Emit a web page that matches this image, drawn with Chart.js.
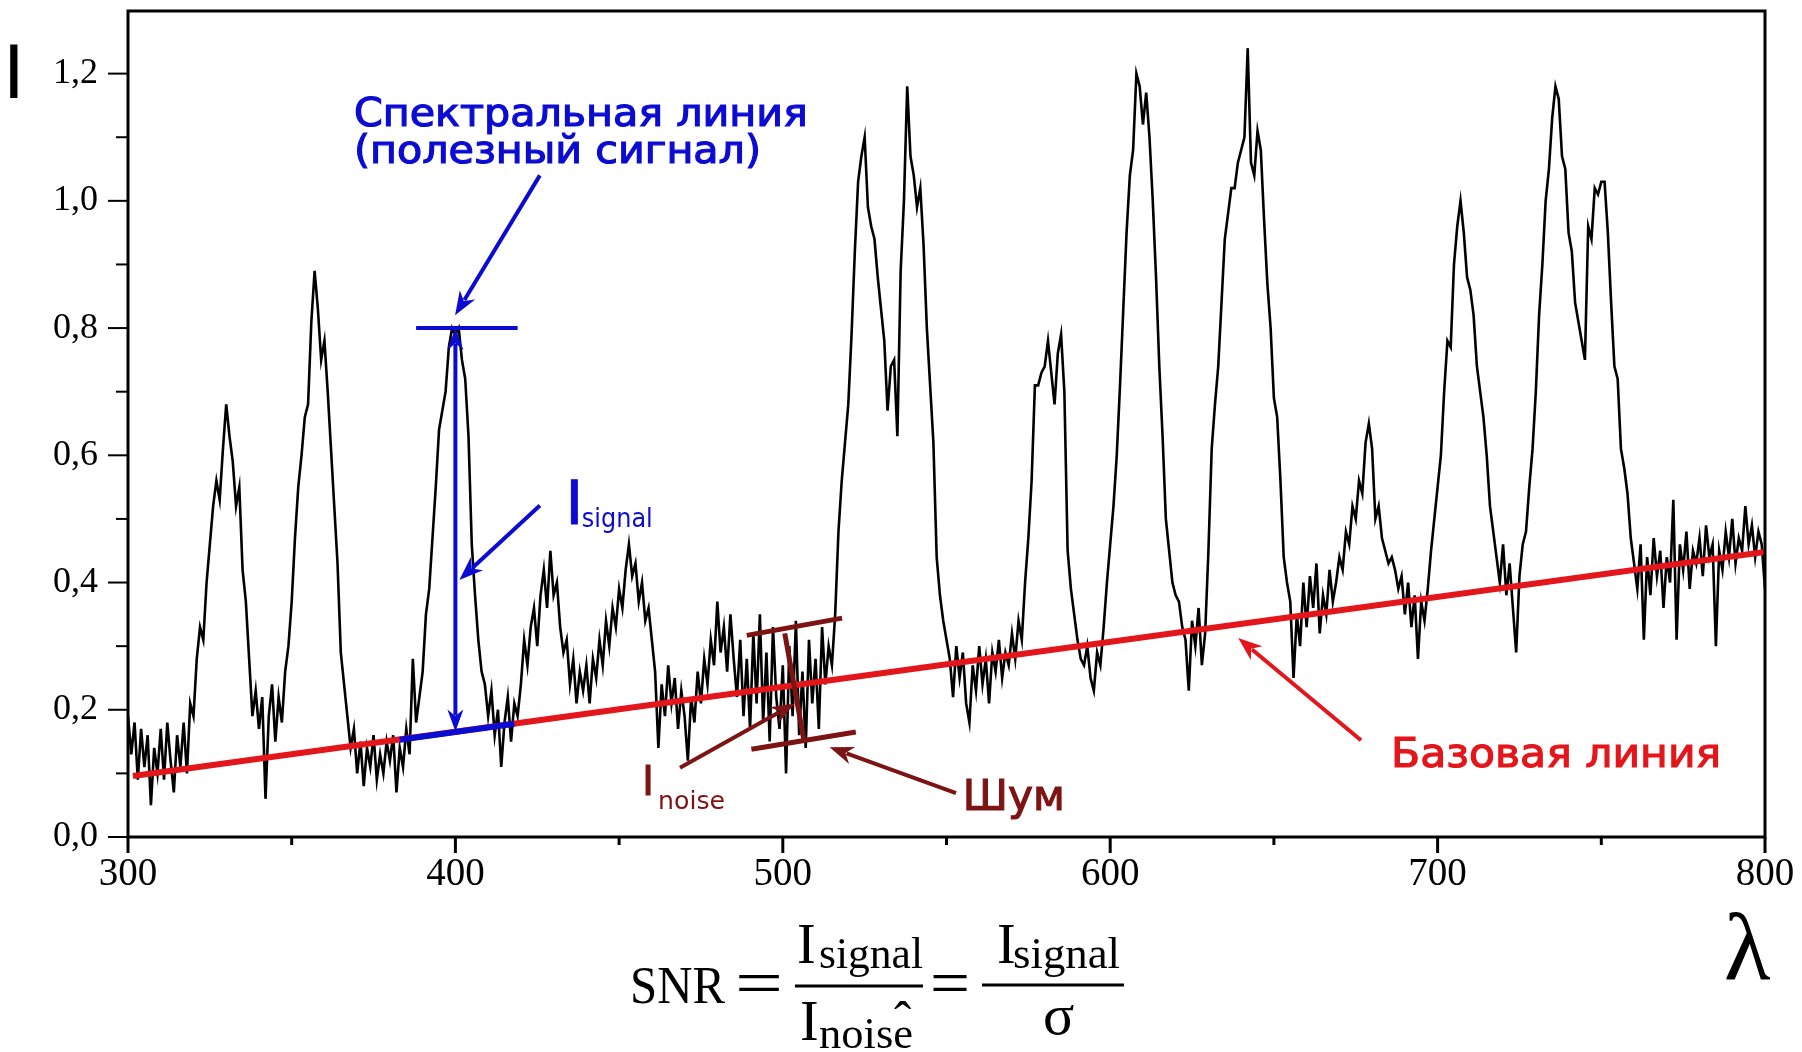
<!DOCTYPE html>
<html lang="ru">
<head>
<meta charset="utf-8">
<title>SNR</title>
<script src="https://cdn.jsdelivr.net/npm/chart.js"></script>
<style>
  html, body { margin: 0; padding: 0; background: #fff; }
  #wrap { position: relative; width: 1802px; height: 1052px; }
</style>
</head>
<body>
<div id="wrap"><canvas id="snrChart"></canvas></div>
<script>
// spectrum: one value per nm, 300 .. 800
var wlStart = 300;
var wlStep = 1;
var intensity = [
    0.19, 0.13, 0.18, 0.09, 0.17, 0.11, 0.16, 0.05, 0.14, 0.10,
    0.17, 0.09, 0.18, 0.12, 0.07, 0.16, 0.11, 0.18, 0.10, 0.21,
    0.19, 0.28, 0.33, 0.31, 0.40, 0.46, 0.52, 0.56, 0.53, 0.61,
    0.68, 0.63, 0.59, 0.52, 0.55, 0.42, 0.37, 0.28, 0.19, 0.23,
    0.17, 0.22, 0.06, 0.19, 0.24, 0.15, 0.22, 0.18, 0.26, 0.30,
    0.37, 0.47, 0.55, 0.60, 0.66, 0.68, 0.81, 0.89, 0.83, 0.75,
    0.78, 0.70, 0.61, 0.52, 0.43, 0.29, 0.24, 0.19, 0.14, 0.17,
    0.10, 0.15, 0.08, 0.14, 0.11, 0.16, 0.09, 0.13, 0.10, 0.15,
    0.12, 0.16, 0.07, 0.14, 0.11, 0.17, 0.13, 0.28, 0.18, 0.22,
    0.26, 0.35, 0.39, 0.47, 0.55, 0.64, 0.67, 0.70, 0.77, 0.80,
    0.79, 0.80, 0.75, 0.72, 0.63, 0.46, 0.38, 0.31, 0.26, 0.24,
    0.19, 0.23, 0.16, 0.20, 0.11, 0.18, 0.22, 0.15, 0.21, 0.19,
    0.24, 0.31, 0.27, 0.33, 0.36, 0.30, 0.38, 0.42, 0.36, 0.45,
    0.38, 0.40, 0.33, 0.29, 0.31, 0.24, 0.28, 0.21, 0.26, 0.23,
    0.27, 0.21, 0.28, 0.25, 0.31, 0.27, 0.34, 0.30, 0.36, 0.33,
    0.39, 0.36, 0.42, 0.46, 0.41, 0.43, 0.37, 0.40, 0.34, 0.36,
    0.31, 0.26, 0.14, 0.24, 0.19, 0.27, 0.21, 0.25, 0.17, 0.23,
    0.19, 0.12, 0.22, 0.18, 0.26, 0.21, 0.28, 0.24, 0.31, 0.27,
    0.37, 0.29, 0.33, 0.26, 0.35, 0.28, 0.22, 0.31, 0.19, 0.28,
    0.17, 0.32, 0.21, 0.35, 0.18, 0.29, 0.15, 0.33, 0.22, 0.17,
    0.27, 0.10, 0.30, 0.19, 0.34, 0.16, 0.26, 0.14, 0.31, 0.21,
    0.28, 0.17, 0.33, 0.24, 0.30, 0.27, 0.35, 0.48, 0.56, 0.62,
    0.68, 0.79, 0.92, 1.03, 1.07, 1.10, 0.99, 0.96, 0.94, 0.88,
    0.83, 0.78, 0.67, 0.74, 0.75, 0.63, 0.89, 1.00, 1.18, 1.07,
    1.04, 0.99, 1.02, 0.93, 0.80, 0.71, 0.62, 0.44, 0.38, 0.34,
    0.31, 0.28, 0.22, 0.30, 0.25, 0.29, 0.21, 0.18, 0.27, 0.23,
    0.30, 0.24, 0.28, 0.21, 0.29, 0.26, 0.31, 0.25, 0.29, 0.27,
    0.32, 0.28, 0.34, 0.31, 0.40, 0.47, 0.56, 0.71, 0.71, 0.73,
    0.74, 0.78, 0.73, 0.68, 0.76, 0.79, 0.70, 0.45, 0.39, 0.35,
    0.31, 0.28, 0.27, 0.30, 0.25, 0.23, 0.29, 0.27, 0.33, 0.40,
    0.46, 0.52, 0.60, 0.71, 0.83, 0.95, 1.04, 1.08, 1.20, 1.18,
    1.12, 1.17, 1.10, 1.00, 0.88, 0.74, 0.63, 0.50, 0.45, 0.40,
    0.38, 0.37, 0.33, 0.31, 0.23, 0.34, 0.30, 0.36, 0.27, 0.32,
    0.45, 0.61, 0.68, 0.74, 0.84, 0.94, 0.98, 1.02, 1.02, 1.06,
    1.08, 1.10, 1.24, 1.06, 1.04, 1.11, 1.08, 0.97, 0.87, 0.80,
    0.69, 0.66, 0.56, 0.44, 0.40, 0.37, 0.25, 0.35, 0.30, 0.40,
    0.33, 0.41, 0.36, 0.43, 0.32, 0.38, 0.35, 0.42, 0.37, 0.40,
    0.44, 0.42, 0.48, 0.46, 0.52, 0.50, 0.56, 0.54, 0.62, 0.65,
    0.61, 0.50, 0.52, 0.47, 0.45, 0.43, 0.44, 0.42, 0.39, 0.41,
    0.35, 0.40, 0.33, 0.38, 0.28, 0.37, 0.34, 0.39, 0.45, 0.50,
    0.55, 0.60, 0.70, 0.78, 0.77, 0.90, 0.96, 1.00, 0.95, 0.88,
    0.86, 0.82, 0.74, 0.70, 0.66, 0.60, 0.52, 0.48, 0.44, 0.40,
    0.46, 0.38, 0.43, 0.36, 0.29, 0.41, 0.46, 0.48, 0.55, 0.61,
    0.70, 0.82, 0.90, 1.00, 1.05, 1.13, 1.18, 1.16, 1.07, 1.05,
    0.95, 0.92, 0.84, 0.81, 0.78, 0.75, 0.96, 0.94, 1.02, 1.01,
    1.03, 1.03, 0.95, 0.84, 0.74, 0.72, 0.61, 0.58, 0.54, 0.47,
    0.43, 0.39, 0.46, 0.31, 0.44, 0.38, 0.47, 0.41, 0.45, 0.36,
    0.44, 0.40, 0.53, 0.31, 0.46, 0.42, 0.48, 0.39, 0.45, 0.43,
    0.47, 0.41, 0.49, 0.44, 0.46, 0.30, 0.45, 0.42, 0.48, 0.44,
    0.50, 0.43, 0.47, 0.45, 0.52, 0.46, 0.49, 0.44, 0.48, 0.46,
    0.39
];

// straight baseline (red)
var baselineX = [301.5, 800];
var baselineY = [0.096, 0.448];

// axes
var xMin = 300, xMax = 800, xStep = 100;
var yMin = 0, yMax = 1.3, yStep = 0.2;
var xMinorTicks = [350, 450, 550, 650, 750];
var yMinorTicks = [0.1, 0.3, 0.5, 0.7, 0.9, 1.1];

// annotation marks in data units: [x1, y1, x2, y2]
var signalTop = [388, 0.80, 419, 0.80];
var signalSpan = [400, 0.80, 400, 0.166];
var signalFoot = [383, 0.153, 418, 0.178];
var lineArrow = [425.8, 1.04, 399.9, 0.82];
var signalArrow = [425.8, 0.521, 401.2, 0.404];
var noiseUpper = [489.0, 0.317, 518.1, 0.344];
var noiseLower = [490.4, 0.138, 522.3, 0.165];
var noiseSpan = [500.6, 0.320, 506.5, 0.151];
var noiseArrow = [468.6, 0.109, 503.7, 0.210];
var shumArrow = [552.9, 0.069, 514.3, 0.141];
var baseArrow = [676.6, 0.152, 639.1, 0.313];

var blue = '#0b0bd2';
var red = '#e3161b';
var darkRed = '#7d1414';

var chart;

function seg(ctx, x1, y1, x2, y2, color, width) {
    ctx.save();
    ctx.strokeStyle = color;
    ctx.lineWidth = width;
    ctx.lineCap = 'butt';
    ctx.beginPath();
    ctx.moveTo(x1, y1);
    ctx.lineTo(x2, y2);
    ctx.stroke();
    ctx.restore();
}

// filled arrow head at (x2, y2) pointing away from (x1, y1)
function head(ctx, x1, y1, x2, y2, color, len, half) {
    var a = Math.atan2(y2 - y1, x2 - x1);
    var c = Math.cos(a), s = Math.sin(a);
    ctx.save();
    ctx.fillStyle = color;
    ctx.beginPath();
    ctx.moveTo(x2, y2);
    ctx.lineTo(x2 - len * c + half * s, y2 - len * s - half * c);
    ctx.lineTo(x2 - len * 0.7 * c, y2 - len * 0.7 * s);
    ctx.lineTo(x2 - len * c - half * s, y2 - len * s + half * c);
    ctx.closePath();
    ctx.fill();
    ctx.restore();
}

function arrow(ctx, x1, y1, x2, y2, color, width, len, half) {
    var a = Math.atan2(y2 - y1, x2 - x1);
    seg(ctx, x1, y1, x2 - len * 0.75 * Math.cos(a), y2 - len * 0.75 * Math.sin(a), color, width);
    head(ctx, x1, y1, x2, y2, color, len, half);
}

// text with its left end at x and baseline at y, stretched to width if given
function txt(ctx, s, x, y, font, color, width, bold) {
    ctx.save();
    ctx.font = font;
    ctx.fillStyle = color;
    ctx.strokeStyle = color;
    ctx.textAlign = 'left';
    ctx.textBaseline = 'alphabetic';
    var sx = width ? width / ctx.measureText(s).width : 1;
    ctx.translate(x, y);
    ctx.scale(sx, 1);
    ctx.fillText(s, 0, 0);
    if (bold) {
        // a thin outline makes the annotation text a bit heavier, like the original
        ctx.lineWidth = bold;
        ctx.strokeText(s, 0, 0);
    }
    ctx.restore();
    return sx;
}

var overlayPlugin = {
    id: 'overlay',
    afterDraw: function (chart) {
        var ctx = chart.ctx;
        var xs = chart.scales.x;
        var ys = chart.scales.y;
        var area = chart.chartArea;
        var px = function (v) { return xs.getPixelForValue(v); };
        var py = function (v) { return ys.getPixelForValue(v); };
        var line = function (m, color, width) {
            seg(ctx, px(m[0]), py(m[1]), px(m[2]), py(m[3]), color, width);
        };
        var arr = function (m, color, width) {
            arrow(ctx, px(m[0]), py(m[1]), px(m[2]), py(m[3]), color, width, 24, 9);
        };

        // frame
        ctx.save();
        ctx.strokeStyle = '#000';
        ctx.lineWidth = 3;
        ctx.strokeRect(area.left, area.top + 1, area.right - area.left, area.bottom - area.top - 1);
        ctx.restore();

        // tick marks, major ones from the scales, minor ones from the lists
        xs.ticks.forEach(function (t) {
            seg(ctx, px(t.value), area.bottom, px(t.value), area.bottom + 16, '#000', 3);
        });
        xMinorTicks.forEach(function (v) {
            seg(ctx, px(v), area.bottom, px(v), area.bottom + 8, '#000', 3);
        });
        ys.ticks.forEach(function (t) {
            seg(ctx, area.left - 20, py(t.value), area.left, py(t.value), '#000', 2);
        });
        yMinorTicks.forEach(function (v) {
            seg(ctx, area.left - 12, py(v), area.left, py(v), '#000', 2);
        });

        // useful signal
        line(signalFoot, blue, 6);
        line(signalTop, blue, 4);
        var sx1 = px(signalSpan[0]), sy1 = py(signalSpan[1]);
        var sx2 = px(signalSpan[2]), sy2 = py(signalSpan[3]);
        seg(ctx, sx1, sy1 + 16, sx2, sy2 - 16, blue, 4);
        head(ctx, sx2, sy2, sx1, sy1, blue, 22, 8);
        head(ctx, sx1, sy1, sx2, sy2, blue, 22, 8);
        arr(lineArrow, blue, 4);
        arr(signalArrow, blue, 4);

        // noise
        line(noiseUpper, darkRed, 5);
        line(noiseLower, darkRed, 5);
        line(noiseSpan, darkRed, 5);
        arr(noiseArrow, darkRed, 4);
        arr(shumArrow, darkRed, 4);

        // baseline
        arr(baseArrow, red, 4);

        // labels inside the plot
        var k = txt(ctx, 'Спектральная линия', px(369), py(1.1176), '39px "DejaVu Sans"', blue, 454, 1.2);
        ctx.save();
        ctx.font = '39px "DejaVu Sans"';
        var w2 = ctx.measureText('(полезный сигнал)').width * k;
        ctx.restore();
        txt(ctx, '(полезный сигнал)', px(369), py(1.0594), '39px "DejaVu Sans"', blue, w2, 1.2);
        txt(ctx, 'I', px(433.6), py(0.492), '60px "DejaVu Sans"', blue, 0, 1);
        txt(ctx, 'signal', px(438.6), py(0.487), '27px "DejaVu Sans"', blue, 71);
        txt(ctx, 'I', px(457), py(0.066), '41px "DejaVu Sans"', darkRed, 0, 1);
        txt(ctx, 'noise', px(461.9), py(0.044), '25px "DejaVu Sans"', darkRed, 67);
        txt(ctx, 'Шум', px(555), py(0.0424), '43px "DejaVu Sans"', darkRed, 102, 1.2);
        txt(ctx, 'Базовая линия', px(685.8), py(0.110), '41px "DejaVu Sans"', red, 330, 1.2);

        // axis names
        txt(ctx, 'I', 3, 98, '78px "Liberation Sans"', '#000');
        txt(ctx, 'λ', 1724, 979, '96px "Liberation Serif"', '#000');

        // SNR formula
        var f = '"Liberation Serif"';
        txt(ctx, 'SNR', 630, 1003, '52px ' + f, '#000', 95);
        txt(ctx, '=', 735, 1004, '64px ' + f, '#000', 48);
        seg(ctx, 795, 986, 923, 986, '#000', 3);
        txt(ctx, 'I', 797, 963, '56px ' + f, '#000');
        txt(ctx, 'signal', 819, 968, '44px ' + f, '#000', 104);
        txt(ctx, 'I', 800, 1040, '56px ' + f, '#000');
        txt(ctx, 'noise', 819, 1048, '44px ' + f, '#000', 94);
        txt(ctx, '\u02C6', 894, 1038, '52px ' + f, '#000');
        txt(ctx, '=', 930, 1004, '64px ' + f, '#000', 40);
        seg(ctx, 982, 985, 1124, 985, '#000', 3);
        txt(ctx, 'I', 997, 963, '56px ' + f, '#000');
        txt(ctx, 'signal', 1013, 968, '44px ' + f, '#000', 107);
        txt(ctx, 'σ', 1043, 1034, '58px ' + f, '#000');
    }
};

document.addEventListener('DOMContentLoaded', function () {
    var spectrum = intensity.map(function (v, i) {
        return { x: wlStart + i * wlStep, y: v };
    });
    var baseline = baselineX.map(function (x, i) {
        return { x: x, y: baselineY[i] };
    });

    var ctx = document.getElementById('snrChart').getContext('2d');
    chart = new Chart(ctx, {
        type: 'line',
        data: {
            datasets: [{
                // first dataset is drawn on top
                data: baseline,
                borderColor: red,
                borderWidth: 6,
                pointRadius: 0,
                fill: false
            }, {
                data: spectrum,
                borderColor: '#000',
                borderWidth: 2.6,
                pointRadius: 0,
                tension: 0,
                fill: false
            }]
        },
        options: {
            responsive: true,
            maintainAspectRatio: false,
            animation: false,
            events: [],
            layout: {
                padding: { left: 0, top: 10, right: 37, bottom: 0 }
            },
            scales: {
                x: {
                    type: 'linear',
                    min: xMin,
                    max: xMax,
                    grid: { display: false, drawTicks: false },
                    border: { display: false },
                    ticks: {
                        stepSize: xStep,
                        includeBounds: false,
                        maxRotation: 0,
                        padding: 14,
                        color: '#000',
                        font: { family: 'Liberation Serif', size: 39 }
                    },
                    afterFit: function (scale) {
                        scale.height = 215;
                        scale.paddingLeft = 0;
                        scale.paddingRight = 0;
                    }
                },
                y: {
                    min: yMin,
                    max: yMax,
                    grid: { display: false, drawTicks: false },
                    border: { display: false },
                    ticks: {
                        stepSize: yStep,
                        includeBounds: false,
                        padding: 30,
                        color: '#000',
                        font: { family: 'Liberation Serif', size: 36 },
                        callback: function (value) {
                            return value.toFixed(1).replace('.', ',');
                        }
                    },
                    afterFit: function (scale) {
                        scale.width = 128;
                        scale.paddingTop = 0;
                        scale.paddingBottom = 0;
                    }
                }
            },
            plugins: {
                legend: { display: false },
                tooltip: { enabled: false }
            }
        },
        plugins: [overlayPlugin]
    });
});
</script>
</body>
</html>
